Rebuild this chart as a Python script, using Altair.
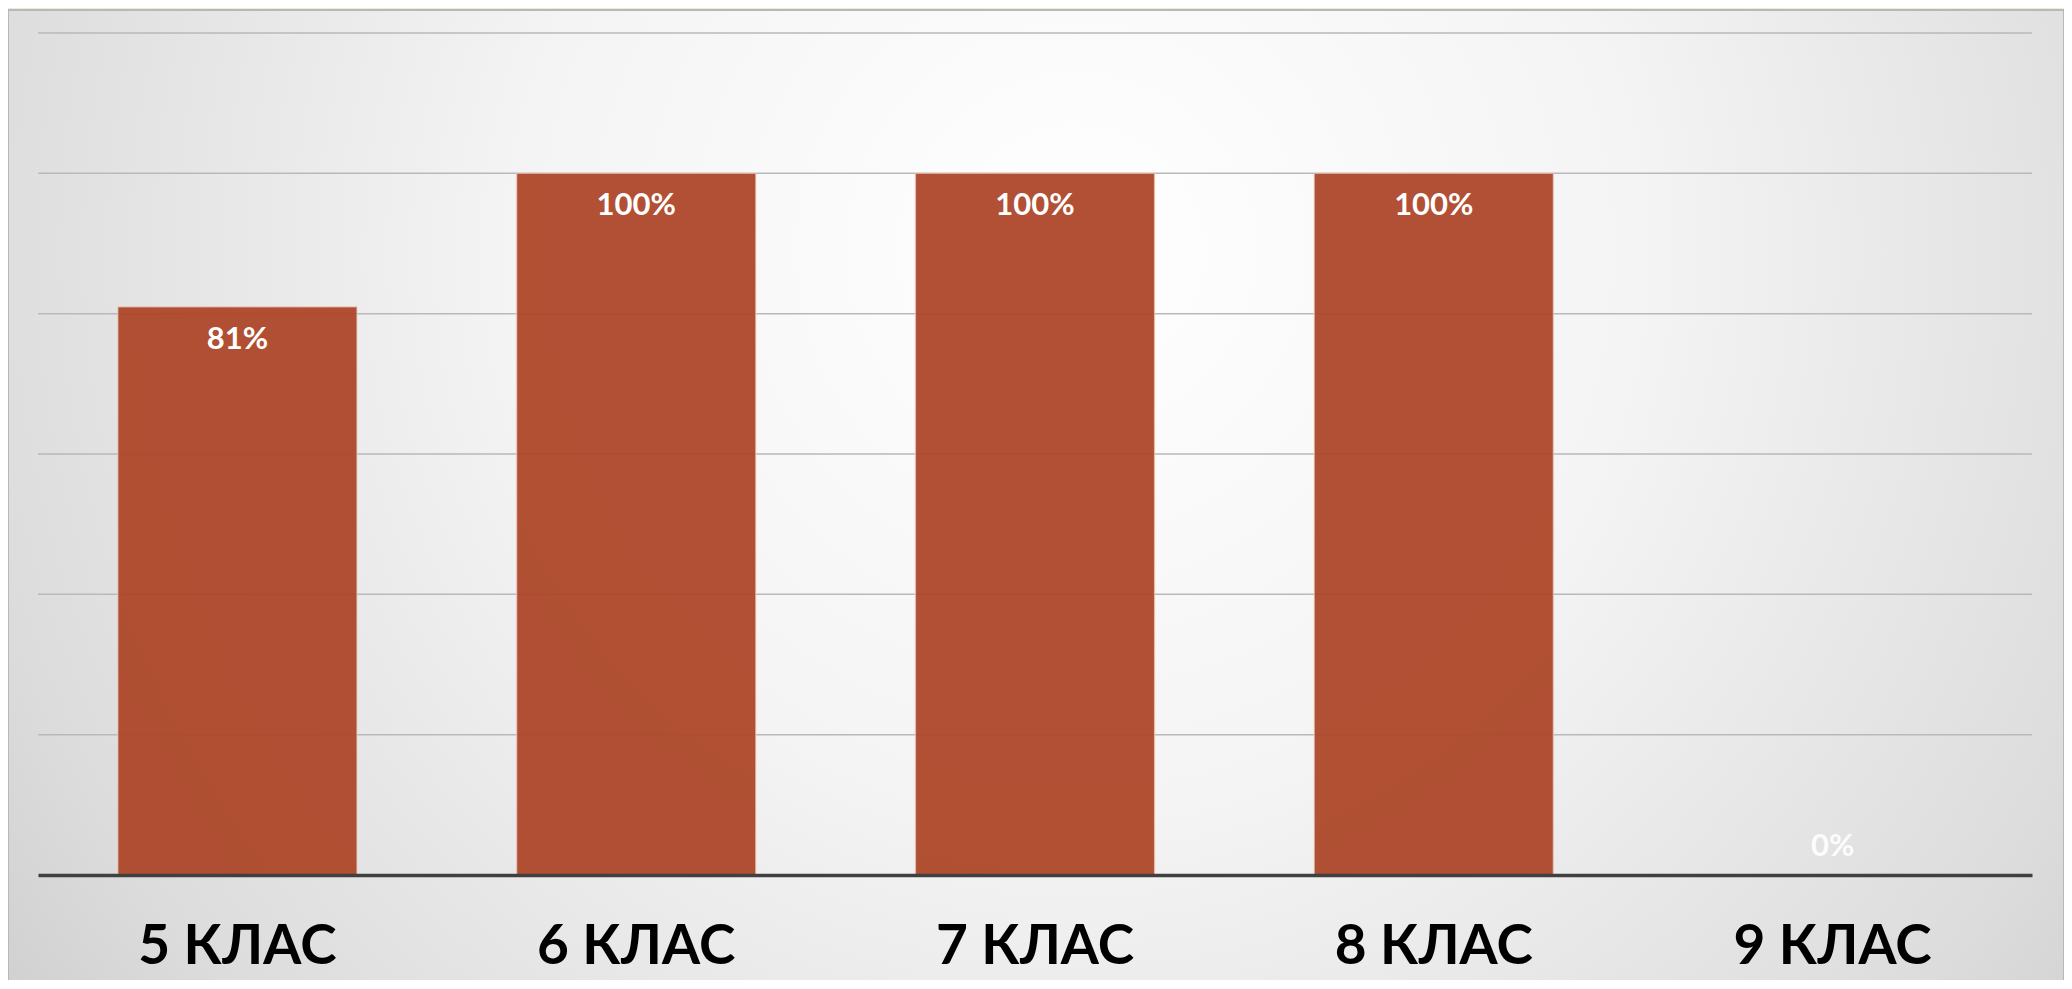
import altair as alt
import pandas as pd

categories = ["5 КЛАС", "6 КЛАС", "7 КЛАС", "8 КЛАС", "9 КЛАС"]
values = [0.81, 1.00, 1.00, 1.00, 0.00]
y_ticks = [0.2, 0.4, 0.6, 0.8, 1.0, 1.2]

df = pd.DataFrame({"cat": categories, "val": values})
grid_df = pd.DataFrame({"tick": y_ticks})

W, H = 1994, 842
PAD = {"left": 30, "top": 25, "right": 32, "bottom": 105}

x_enc = alt.X("cat:N", sort=categories, title=None,
              scale=alt.Scale(paddingInner=0.4, paddingOuter=0.2),
              axis=alt.Axis(labelAngle=0, ticks=False, labelPadding=71,
                            labelBaseline="middle", labelLimit=0,
                            labelFont="Lato", labelFontSize=55,
                            labelFontWeight="bold", labelColor="#000000",
                            domainColor="#404040", domainWidth=3.5,
                            grid=False, zindex=1))
y_scale = alt.Scale(domain=[0, 1.2], nice=False)

bg = alt.Chart(df).mark_rect(
    color=alt.RadialGradient(
        gradient="radial", x1=0.52, y1=0.38, r1=0.0, x2=0.52, y2=0.38, r2=0.78,
        stops=[alt.GradientStop(offset=0, color="#ffffff"),
               alt.GradientStop(offset=0.35, color="#f4f4f4"),
               alt.GradientStop(offset=0.7, color="#dcdcdc"),
               alt.GradientStop(offset=1, color="#bdbdbd")]),
    stroke="#b8b8b8", strokeWidth=2, clip=False
).encode(
    x=alt.value(-PAD["left"]), x2=alt.value(W + PAD["right"]),
    y=alt.value(-PAD["top"] + 2), y2=alt.value(H + PAD["bottom"] + 10)
)

grid = alt.Chart(grid_df).mark_rule(color="#b9b9b9", strokeWidth=1.5).encode(
    y=alt.Y("tick:Q", scale=y_scale, title=None, axis=None)
)

bars = alt.Chart(df).mark_bar(
    color="#ad4628", opacity=0.94, stroke="#f2d8d0", strokeOpacity=0.6, strokeWidth=1.5
).encode(
    x=x_enc,
    y=alt.Y("val:Q", scale=y_scale, axis=None),
)

labels_in = alt.Chart(df).transform_filter("datum.val > 0").mark_text(
    font="Lato", fontSize=31, fontWeight="bold", color="white",
    baseline="middle", dy=33
).encode(
    x=alt.X("cat:N", sort=categories),
    y=alt.Y("val:Q", scale=y_scale),
    text=alt.Text("val:Q", format=".0%"),
)

labels_zero = alt.Chart(df).transform_filter("datum.val == 0").mark_text(
    font="Lato", fontSize=31, fontWeight="bold", color="white", opacity=0.9,
    baseline="middle", dy=-28
).encode(
    x=alt.X("cat:N", sort=categories),
    y=alt.Y("val:Q", scale=y_scale),
    text=alt.Text("val:Q", format=".0%"),
)

chart = alt.layer(bg, grid, bars, labels_in, labels_zero).properties(
    width=W, height=H, padding=PAD, autosize=alt.AutoSizeParams(type="none"),
    background="#e8efd8"
).configure_view(stroke=None)

chart.save("out.html", embed_options={"renderer": "svg", "actions": False})
